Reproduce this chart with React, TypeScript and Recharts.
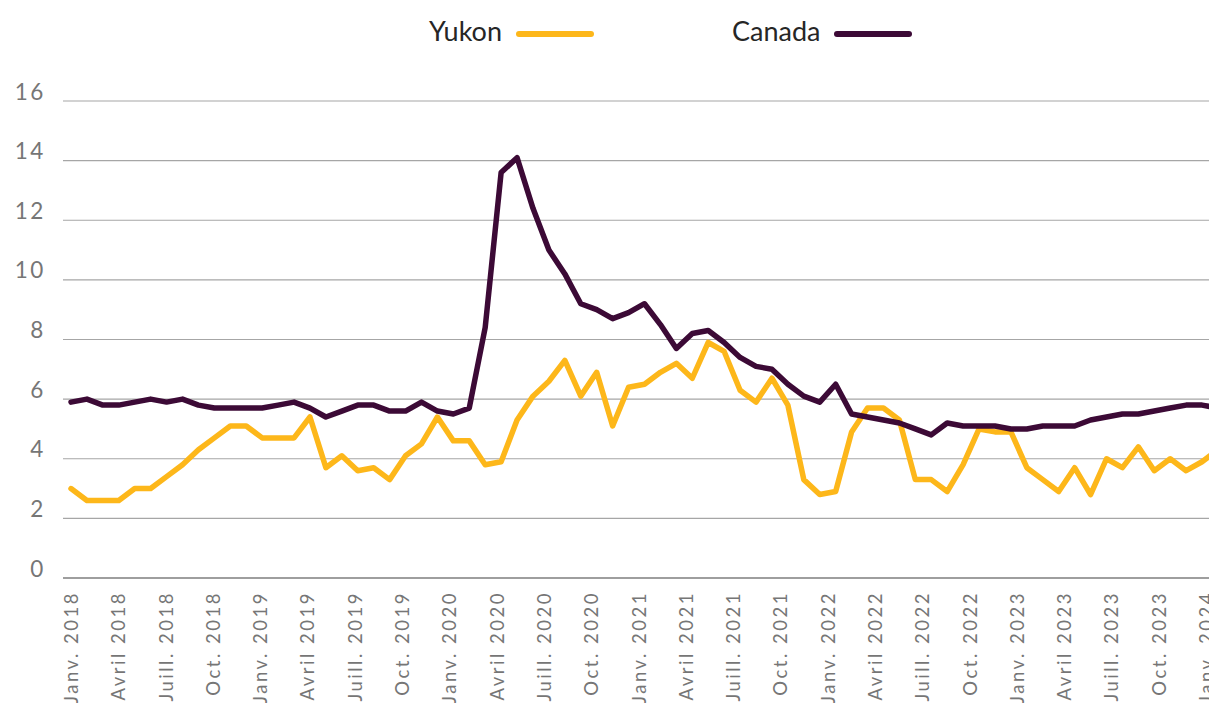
import { CartesianGrid, Legend, Line, LineChart, XAxis, YAxis } from 'recharts';

const monthNames = ['Janv.', 'Févr.', 'Mars', 'Avril', 'Mai', 'Juin', 'Juill.', 'Août', 'Sept.', 'Oct.', 'Nov.', 'Déc.'];
const years = [2018, 2019, 2020, 2021, 2022, 2023, 2024];

// Janv. 2018 .. Janv. 2024
const months = years.flatMap((y) => monthNames.map((m) => `${m} ${y}`)).slice(0, 73);

const yukon = [
  3.0, 2.6, 2.6, 2.6, 3.0, 3.0, 3.4, 3.8, 4.3, 4.7, 5.1, 5.1,
  4.7, 4.7, 4.7, 5.4, 3.7, 4.1, 3.6, 3.7, 3.3, 4.1, 4.5, 5.4,
  4.6, 4.6, 3.8, 3.9, 5.3, 6.1, 6.6, 7.3, 6.1, 6.9, 5.1, 6.4,
  6.5, 6.9, 7.2, 6.7, 7.9, 7.6, 6.3, 5.9, 6.7, 5.8, 3.3, 2.8,
  2.9, 4.9, 5.7, 5.7, 5.3, 3.3, 3.3, 2.9, 3.8, 5.0, 4.9, 4.9,
  3.7, 3.3, 2.9, 3.7, 2.8, 4.0, 3.7, 4.4, 3.6, 4.0, 3.6, 3.9,
  4.3,
];

const canada = [
  5.9, 6.0, 5.8, 5.8, 5.9, 6.0, 5.9, 6.0, 5.8, 5.7, 5.7, 5.7,
  5.7, 5.8, 5.9, 5.7, 5.4, 5.6, 5.8, 5.8, 5.6, 5.6, 5.9, 5.6,
  5.5, 5.7, 8.4, 13.6, 14.1, 12.4, 11.0, 10.2, 9.2, 9.0, 8.7, 8.9,
  9.2, 8.5, 7.7, 8.2, 8.3, 7.9, 7.4, 7.1, 7.0, 6.5, 6.1, 5.9,
  6.5, 5.5, 5.4, 5.3, 5.2, 5.0, 4.8, 5.2, 5.1, 5.1, 5.1, 5.0,
  5.0, 5.1, 5.1, 5.1, 5.3, 5.4, 5.5, 5.5, 5.6, 5.7, 5.8, 5.8,
  5.7,
];

const yTicks = [0, 2, 4, 6, 8, 10, 12, 14, 16];
const legendOrder = ['Yukon', 'Canada'];

const YUKON_COLOR = '#fdb71a';
const CANADA_COLOR = '#3c0a36';

const data = months.map((month, i) => ({ month, Yukon: yukon[i], Canada: canada[i] }));

const MonthTick = (props: any) => {
  const { x, y, payload } = props;
  // labels drift slightly left of the points towards the right end
  const dx = -((x - 71) / 1147) * 12;
  return (
    <text
      x={x + dx}
      y={y}
      transform={`rotate(-90, ${x + dx}, ${y})`}
      textAnchor="end"
      dominantBaseline="central"
      fontFamily="Lato"
      fontSize={18.5}
      letterSpacing={2.5}
      fill="#767676"
    >
      {payload.value}
    </text>
  );
};

const ValueTick = (props: any) => {
  const { x, y, payload } = props;
  return (
    <text
      x={x}
      y={y - 10}
      textAnchor="end"
      dominantBaseline="central"
      fontFamily="Lato"
      fontSize={22.5}
      letterSpacing={2.6}
      fill="#767676"
    >
      {payload.value}
    </text>
  );
};

const LegendContent = (props: any) => {
  const items = [...(props.payload ?? [])].sort(
    (a: any, b: any) => legendOrder.indexOf(a.value) - legendOrder.indexOf(b.value),
  );
  return (
    <div style={{ display: 'flex', marginLeft: 429, fontFamily: 'Lato', fontSize: 27, color: '#262626', height: 56, alignItems: 'center' }}>
      {items.map((it: any, i: number) => (
        <div key={it.value} style={{ display: 'flex', alignItems: 'center', marginLeft: i === 0 ? 0 : 138 }}>
          <span>{it.value}</span>
          <span
            style={{
              display: 'inline-block',
              width: 78,
              height: 6,
              borderRadius: 3,
              background: it.color,
              marginLeft: 14,
              marginTop: 8,
            }}
          />
        </div>
      ))}
    </div>
  );
};

export default function App() {
  return (
    <div style={{ margin: -8, width: 1217, height: 711, overflow: 'hidden', position: 'relative', background: '#fff' }}>
      <LineChart width={1235} height={711} data={data} margin={{ top: 45, right: 9, left: 0, bottom: 0 }}>
        <CartesianGrid vertical={false} stroke="#a6a6a6" strokeWidth={1.2} />
        <XAxis
          dataKey="month"
          interval={2}
          padding={{ left: 8, right: 8 }}
          height={133}
          tickLine={false}
          tickSize={0}
          tickMargin={13}
          axisLine={{ stroke: '#8c8c8c', strokeWidth: 1.4 }}
          tick={<MonthTick />}
        />
        <YAxis
          width={63}
          domain={[0, 16]}
          ticks={yTicks}
          axisLine={false}
          tickLine={false}
          tickSize={0}
          tickMargin={17}
          tick={<ValueTick />}
        />
        <Legend
          verticalAlign="top"
          align="left"
          wrapperStyle={{ top: 2, left: 0, width: 1217 }}
          content={<LegendContent />}
        />
        <Line
          type="linear"
          dataKey="Yukon"
          stroke={YUKON_COLOR}
          strokeWidth={5.5}
          strokeLinejoin="round"
          strokeLinecap="round"
          dot={false}
          activeDot={false}
          isAnimationActive={false}
        />
        <Line
          type="linear"
          dataKey="Canada"
          stroke={CANADA_COLOR}
          strokeWidth={5.5}
          strokeLinejoin="round"
          strokeLinecap="round"
          dot={false}
          activeDot={false}
          isAnimationActive={false}
        />
      </LineChart>
    </div>
  );
}
